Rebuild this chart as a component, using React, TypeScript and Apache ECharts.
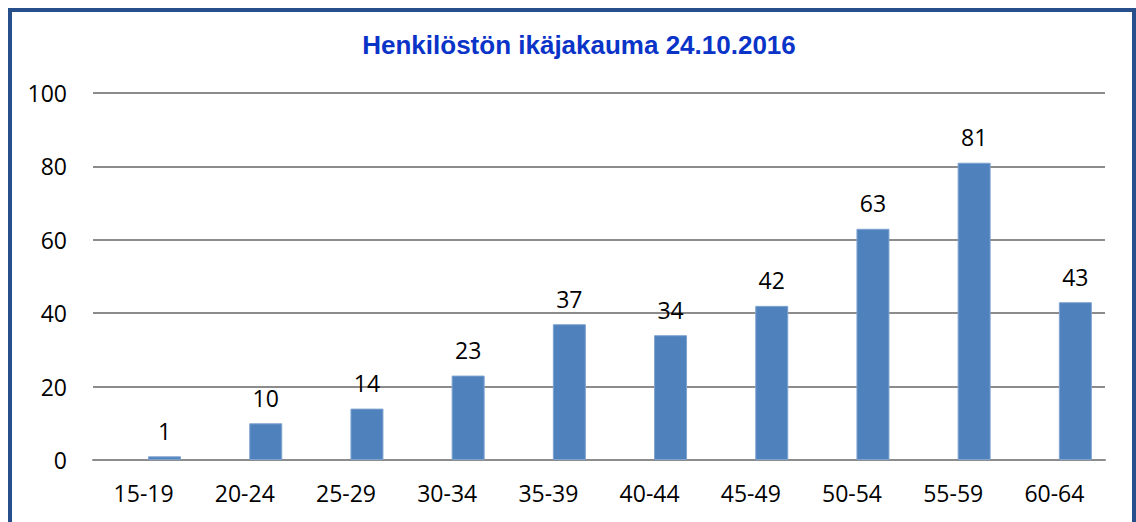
import React, { useEffect, useRef } from "react";
import * as echarts from "echarts";

const titleText = "Henkilöstön ikäjakauma 24.10.2016";
const categories = ["15-19", "20-24", "25-29", "30-34", "35-39", "40-44", "45-49", "50-54", "55-59", "60-64"];
const values = [1, 10, 14, 23, 37, 34, 42, 63, 81, 43];
const emptySeries: (number | null)[] = [];
const yMin = 0;
const yMax = 100;
const yInterval = 20;

export default function App() {
  const ref = useRef<HTMLDivElement>(null);
  useEffect(() => {
    if (!ref.current) return;
    const chart = echarts.init(ref.current, null, { renderer: "svg" });
    const font = "'Open Sans', 'Noto Sans', sans-serif";
    chart.setOption({
      animation: false,
      backgroundColor: "#ffffff",
      title: {
        text: titleText,
        left: 574,
        textAlign: "center",
        top: 27,
        textStyle: {
          fontFamily: "'Liberation Sans', Arial, sans-serif",
          fontWeight: "bold",
          fontSize: 26,
          color: "#0A34C8",
        },
      },
      graphic: [
        {
          type: "rect",
          shape: { x: 10, y: 10, width: 1124, height: 600 },
          style: { fill: "none", stroke: "#274F8C", lineWidth: 4 },
          silent: true,
          z: 100,
        },
      ],
      grid: { left: 93, right: 31, top: 93, bottom: 62, containLabel: false },
      xAxis: {
        type: "category",
        data: categories,
        axisLine: { show: true, lineStyle: { color: "#8C8C8C", width: 2 } },
        axisTick: { show: false },
        axisLabel: { color: "#000", fontFamily: font, fontSize: 23, margin: 21, interval: 0 },
      },
      yAxis: {
        type: "value",
        min: yMin,
        max: yMax,
        interval: yInterval,
        axisLine: { show: false },
        axisTick: { show: false },
        axisLabel: { color: "#000", fontFamily: font, fontSize: 23, margin: 26 },
        splitLine: { show: true, lineStyle: { color: "#8C8C8C", width: 2 } },
      },
      series: [
        {
          type: "bar",
          name: "empty",
          data: emptySeries,
          barWidth: 33,
          barGap: "27%",
        },
        {
          type: "bar",
          name: "Henkilöstö",
          data: values,
          barWidth: 33,
          barGap: "27%",
          itemStyle: { color: "#4F81BD", borderColor: "#7FA3D0", borderWidth: 1 },
          label: {
            show: true,
            position: "top",
            distance: 14,
            color: "#000",
            fontFamily: font,
            fontSize: 23,
          },
        },
      ],
    });
    return () => chart.dispose();
  }, []);
  return (
    <div
      ref={ref}
      style={{ position: "absolute", left: 0, top: 0, width: 1136, height: 522 }}
    />
  );
}
